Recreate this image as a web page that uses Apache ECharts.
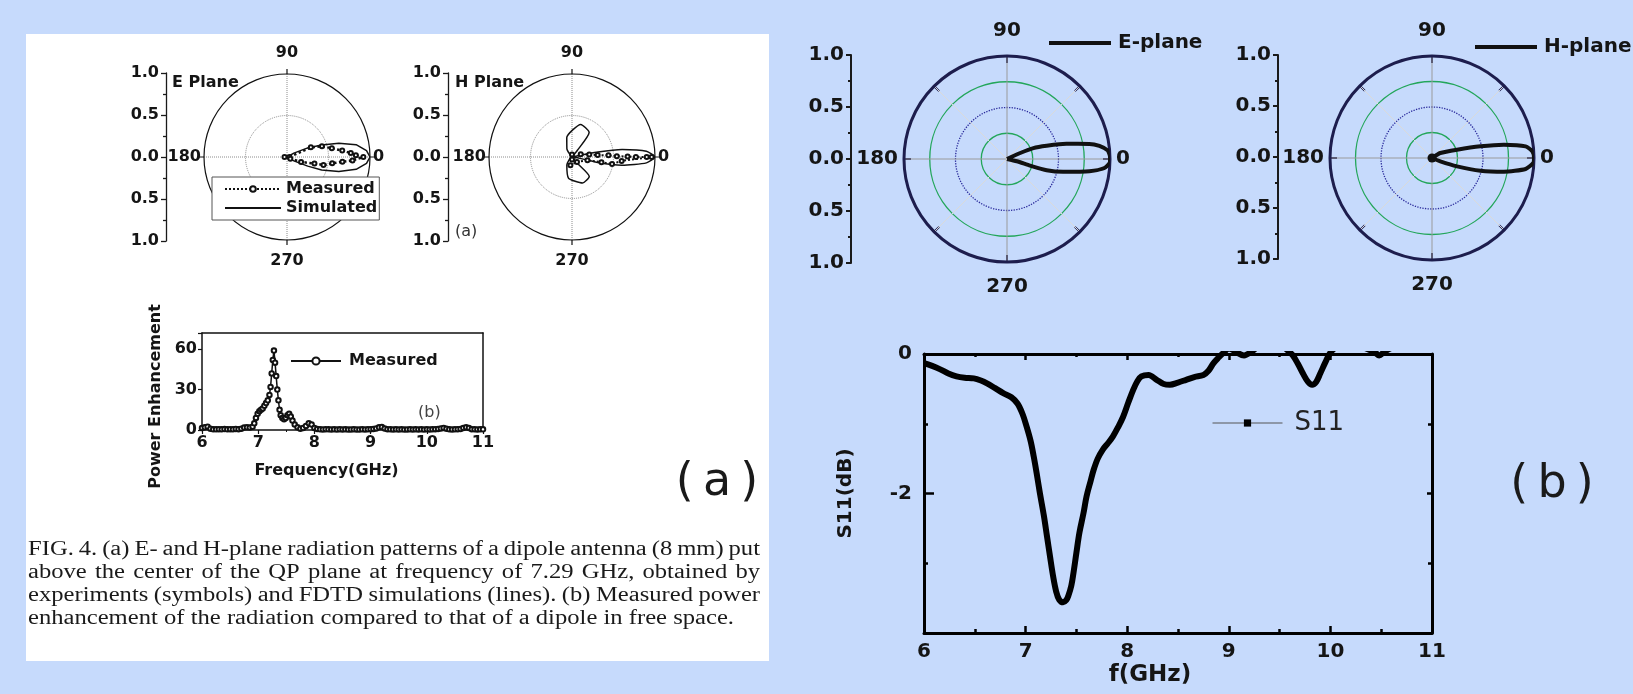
<!DOCTYPE html>
<html lang="en">
<head>
<meta charset="UTF-8">
<title>Dipole radiation patterns and S11</title>
<style>
  html, body { margin: 0; padding: 0; background: #c6dafc; }
  #main { width: 1633px; height: 694px; }
</style>
</head>
<body>
<div id="main"></div>
<script src="https://cdn.jsdelivr.net/npm/echarts@6/dist/echarts.min.js"></script>
<script>
// ---- data ----
// polar points are [radius, angle in degrees]
var paperESim = [[0, 0], [0.095, 29.5], [0.273, 23.7], [0.441, 19.2], [0.646, 14.8], [0.846, 10.1], [0.961, 4.6], [1, 0],
  [0.961, 355.4], [0.846, 349.9], [0.649, 344.3], [0.446, 339.4], [0.273, 336.3], [0.095, 330.5], [0, 0]];
var paperEMeas = [[0.03, 180], [0.03, 0], [0.31, 22], [0.44, 17], [0.55, 11], [0.67, 6.7], [0.77, 3.5], [0.83, 1.4], [0.92, 0],
  [0.79, 357], [0.67, 355], [0.55, 352], [0.45, 347.5], [0.34, 346.7], [0.18, 340.5], [0.045, 333]];
var paperHSim = [[0, 0], [0.116, 122], [0.243, 105], [0.406, 75], [0.36, 55], [0.1, 51], [0, 0],
  [0.318, 10.7], [0.611, 8.5], [0.899, 4.5], [1, 0], [0.9, 355.5], [0.61, 350.7], [0.317, 347.8], [0, 0],
  [0.116, 237.5], [0.258, 260.7], [0.338, 292], [0.314, 311.5], [0.1, 310], [0, 0]];
var paperHMeas = [[0.03, 90], [0.03, 270], [0.11, 17], [0.21, 8], [0.31, 4.4], [0.44, 2.6], [0.54, 1], [0.67, 0.5], [0.77, 0],
  [0.9, 0], [0.96, 0], [0.6, 355.5], [0.49, 350], [0.36, 350], [0.19, 348], [0.085, 315], [0.1, 259]];
var rightE = [[0, 0], [0.141, 24.4], [0.277, 22.5], [0.406, 18.4], [0.595, 14.3], [0.813, 10.4], [0.906, 8.1], [0.981, 4.9],
  [1, 1.5], [1, 0], [1, 358.2], [0.95, 354.7], [0.809, 351.5], [0.559, 347.1], [0.40, 344.2], [0.233, 344.1], [0.098, 347.1], [0, 0]];
var rightH = [[0, 0], [0.095, 31], [0.259, 18.4], [0.489, 13.6], [0.717, 10.5], [0.925, 7.1], [0.986, 3.8], [1, 0],
  [0.994, 357.2], [0.924, 353.3], [0.718, 349.2], [0.491, 345.3], [0.259, 341.6], [0.088, 338.2], [0, 0]];
var angleTicks = [0, 90, 180, 270];

// measured power enhancement (paper fig b)
var pwrFreq = [6.00, 6.05, 6.10, 6.15, 6.20, 6.25, 6.30, 6.35, 6.40, 6.45, 6.50, 6.55, 6.60, 6.65, 6.70, 6.75, 6.80, 6.85, 6.90,
  6.93, 6.96, 6.99, 7.02, 7.05, 7.08, 7.11, 7.14, 7.17, 7.20, 7.22, 7.24, 7.26, 7.28, 7.30, 7.32, 7.34, 7.36, 7.38, 7.40,
  7.43, 7.46, 7.49, 7.52, 7.55, 7.58, 7.61, 7.65, 7.70, 7.75, 7.80, 7.85, 7.90, 7.95, 8.00, 8.05,
  8.10, 8.15, 8.20, 8.25, 8.30, 8.35, 8.40, 8.45, 8.50, 8.55, 8.60, 8.65, 8.70, 8.75, 8.80, 8.85, 8.90, 8.95,
  9.00, 9.05, 9.10, 9.15, 9.20, 9.25, 9.30, 9.35, 9.40, 9.45, 9.50, 9.55, 9.60, 9.65, 9.70, 9.75, 9.80, 9.85, 9.90, 9.95,
  10.00, 10.05, 10.10, 10.15, 10.20, 10.25, 10.30, 10.35, 10.40, 10.45, 10.50, 10.55, 10.60, 10.65, 10.70, 10.75, 10.80,
  10.85, 10.90, 10.95, 11.00];
var pwrVal = [1.5, 2.0, 2.5, 1.0, 0.5, 0.5, 0.6, 0.5, 0.7, 0.5, 0.6, 0.5, 0.8, 0.6, 1.0, 1.8, 2.0, 1.8, 2.5,
  5, 9, 12, 14, 15, 16, 18, 20, 22, 26, 32, 42, 52, 59, 50, 40, 30, 22, 15, 11,
  9, 8, 9, 11, 12, 10, 7, 4, 2, 1, 1.5, 3, 5, 4, 1.5, 0.8,
  0.5, 0.4, 0.6, 0.5, 0.4, 0.5, 0.3, 0.5, 0.4, 0.5, 0.3, 0.4, 0.5, 0.4, 0.3, 0.5, 0.4, 0.5,
  0.6, 0.8, 1.2, 2.0, 2.2, 1.2, 0.6, 0.5, 0.4, 0.5, 0.4, 0.5, 0.3, 0.4, 0.5, 0.4, 0.5, 0.4, 0.5, 0.3,
  0.5, 0.4, 0.5, 0.6, 0.8, 1.2, 1.5, 1.0, 0.5, 0.4, 0.5, 0.6, 0.8, 1.5, 2.0, 1.5, 0.6,
  0.5, 0.4, 0.5, 0.5];

// S11 (dB), values above 0 are cut by the plot frame
var s11Freq = [6.00, 6.08, 6.16, 6.24, 6.32, 6.40, 6.49, 6.56, 6.62, 6.70, 6.78, 6.86, 6.92, 6.97, 7.01, 7.05, 7.08, 7.11,
  7.14, 7.18, 7.21, 7.24, 7.27, 7.30, 7.33, 7.37, 7.40, 7.42, 7.45, 7.47, 7.50, 7.53, 7.57, 7.60, 7.64, 7.67, 7.71, 7.76,
  7.81, 7.86, 7.91, 7.96, 8.01, 8.06, 8.10, 8.14, 8.21, 8.29, 8.36, 8.42, 8.50, 8.58, 8.66, 8.75, 8.80, 8.85, 8.90, 8.95,
  9.00, 9.07, 9.15, 9.22, 9.30, 9.40, 9.50, 9.58, 9.63, 9.68, 9.73, 9.78, 9.82, 9.86, 9.90, 9.95, 10.00, 10.08, 10.20,
  10.35, 10.44, 10.48, 10.53, 10.65, 10.80, 11.00];
var s11Val = [-0.13, -0.17, -0.22, -0.28, -0.32, -0.34, -0.35, -0.38, -0.42, -0.49, -0.56, -0.62, -0.71, -0.86, -1.04, -1.25,
  -1.47, -1.72, -1.99, -2.32, -2.61, -2.90, -3.18, -3.40, -3.52, -3.56, -3.53, -3.47, -3.32, -3.15, -2.85, -2.56, -2.28,
  -2.04, -1.82, -1.66, -1.50, -1.37, -1.28, -1.18, -1.05, -0.90, -0.70, -0.51, -0.39, -0.32, -0.30, -0.37, -0.43, -0.44,
  -0.41, -0.37, -0.33, -0.30, -0.24, -0.13, -0.05, 0.02, 0.08, 0.03, -0.02, 0.03, 0.12, 0.18, 0.15, 0.05, -0.02, -0.14,
  -0.28, -0.40, -0.44, -0.40, -0.28, -0.12, 0.02, 0.12, 0.15, 0.08, 0.02, -0.02, 0.03, 0.12, 0.16, 0.18];

var captionLines = [
  'FIG. 4. (a) E- and H-plane radiation patterns of a dipole antenna (8 mm) put',
  'above the center of the QP plane at frequency of 7.29 GHz, obtained by',
  'experiments (symbols) and FDTD simulations (lines). (b) Measured power',
  'enhancement of the radiation compared to that of a dipole in free space.'
];
var legendText = { pEMeas: 'Measured', pESim: 'Simulated', pwr: 'Measured', rE: 'E-plane', rH: 'H-plane', s11: 'S11' };

// ---- styles ----
var SANS = '"DejaVu Sans", "Liberation Sans", sans-serif';
function txt(size, weight, color) {
  return { fontFamily: SANS, fontSize: size, fontWeight: weight || 'bold', color: color || '#151515' };
}
function pairs(xs, ys) {
  return xs.map(function (x, i) { return [x, ys[i]]; });
}

// angle labels 0/90/180/270, pushed away from the circle at top and bottom
function angleLabel(size, margin, pad) {
  var base = txt(size);
  return {
    margin: margin,
    formatter: function (v) {
      if (v === 90) return '{t|90}';
      if (v === 270) return '{b|270}';
      if (angleTicks.indexOf(v) >= 0) return '{m|' + v + '}';
      return '';
    },
    rich: {
      t: Object.assign({ padding: [0, 0, pad, 0] }, base),
      b: Object.assign({ padding: [pad, 0, 0, 0] }, base),
      m: Object.assign({}, base)
    }
  };
}

function paperAngle(i) {
  return {
    polarIndex: i, type: 'value', min: 0, max: 360, interval: 90, startAngle: 0, clockwise: false,
    axisLine: { lineStyle: { color: '#111', width: 1.2 } },
    axisTick: { show: true, length: 5, lineStyle: { color: '#111', width: 1.2 } },
    splitLine: { show: true, lineStyle: { color: '#8c8c8c', type: 'dotted', width: 1 } },
    axisLabel: angleLabel(16, 3, 10)
  };
}
function rightAngle(i) {
  return {
    polarIndex: i, type: 'value', min: 0, max: 360, interval: 45, startAngle: 0, clockwise: false,
    axisLine: { lineStyle: { color: '#1d1d4d', width: 3 } },
    axisTick: { show: true, inside: true, length: 7, lineStyle: { color: '#1d1d4d', width: 2 } },
    splitLine: { show: true, lineStyle: { color: ['#9a9a9a', '#dadada'], width: 1 } },
    axisLabel: angleLabel(20, 6, 9)
  };
}
function ringAxis(i, step, colors, type, width) {
  return {
    polarIndex: i, type: 'value', min: 0, max: 1, interval: step,
    axisLine: { show: false }, axisTick: { show: false }, axisLabel: { show: false },
    splitLine: { show: true, lineStyle: { color: colors, type: type, width: width } }
  };
}
var T = 'rgba(0,0,0,0)';

// vertical 1.0 - 0.0 - 1.0 scale next to each polar plot
function scaleY(g, size, lw) {
  return {
    gridIndex: g, type: 'value', min: -1, max: 1, interval: 0.5,
    axisLine: { show: true, onZero: false, lineStyle: { color: '#1a1a1a', width: lw } },
    axisTick: { show: true, length: 5, lineStyle: { color: '#1a1a1a', width: lw } },
    minorTick: { show: true, splitNumber: 2, length: 3, lineStyle: { color: '#1a1a1a', width: lw } },
    splitLine: { show: false },
    axisLabel: Object.assign({ margin: 7, formatter: function (v) { return Math.abs(v).toFixed(1); } }, txt(size))
  };
}
function hiddenX(g) {
  return { gridIndex: g, type: 'value', show: false, min: 0, max: 1 };
}

// ---- graphics: white panel, annotations, caption ----
var graphics = [
  { type: 'rect', z: -1, shape: { x: 26, y: 34, width: 743, height: 627 }, style: { fill: '#fff' } },
  { type: 'text', x: 172, y: 83, style: { text: 'E Plane', font: 'bold 16px ' + SANS, fill: '#151515', verticalAlign: 'middle' } },
  { type: 'text', x: 455, y: 83, style: { text: 'H Plane', font: 'bold 16px ' + SANS, fill: '#151515', verticalAlign: 'middle' } },
  { type: 'text', x: 455, y: 232, style: { text: '(a)', font: '16px ' + SANS, fill: '#333', verticalAlign: 'middle' } },
  { type: 'text', x: 418, y: 413, style: { text: '(b)', font: '16px ' + SANS, fill: '#444', verticalAlign: 'middle' } },
  { type: 'text', x: 717, y: 483, style: { text: '(\u2009a\u2009)', font: '46px ' + SANS, fill: '#1a1a1a', align: 'center', verticalAlign: 'middle' } },
  { type: 'text', x: 1552, y: 485, style: { text: '(\u2009b\u2009)', font: '46px ' + SANS, fill: '#1a1a1a', align: 'center', verticalAlign: 'middle' } }
];

// caption: the scanned text is stretched sideways, so scale words and justify lines
var capFont = '20px "Liberation Serif", "Times New Roman", serif';
var capY = [550, 573, 596, 619];
var ctx = document.createElement('canvas').getContext('2d');
ctx.font = capFont;
var sx = 706 / ctx.measureText(captionLines[3]).width;
captionLines.forEach(function (line, li) {
  var words = line.split(' ');
  var widths = words.map(function (w) { return ctx.measureText(w).width * sx; });
  var sum = widths.reduce(function (a, b) { return a + b; }, 0);
  var gap = li < 3 ? (732 - sum) / (words.length - 1) : ctx.measureText(' ').width * sx;
  var x = 28;
  words.forEach(function (w, i) {
    graphics.push({ type: 'text', x: x, y: capY[li], scaleX: sx,
      style: { text: w, font: capFont, fill: '#1a1a1a', verticalAlign: 'middle' } });
    x += widths[i] + gap;
  });
});

var noIcon = { color: T, borderColor: T, borderWidth: 0 };

var chart = echarts.init(document.getElementById('main'));
var option = {
  animation: false,
  backgroundColor: '#c6dafc',
  polar: [
    { center: [287, 157], radius: 83 },
    { center: [572, 157], radius: 83 },
    { center: [1007, 159], radius: 103 },
    { center: [1007, 159], radius: 103 },
    { center: [1432, 158], radius: 102 },
    { center: [1432, 158], radius: 102 }
  ],
  angleAxis: [
    paperAngle(0), paperAngle(1), rightAngle(2),
    { polarIndex: 3, type: 'value', min: 0, max: 360, show: false },
    rightAngle(4),
    { polarIndex: 5, type: 'value', min: 0, max: 360, show: false }
  ],
  radiusAxis: [
    ringAxis(0, 0.5, [T, '#8c8c8c', T], 'dotted', 1),
    ringAxis(1, 0.5, [T, '#8c8c8c', T], 'dotted', 1),
    ringAxis(2, 0.25, [T, '#23a65a', T, '#23a65a', T], 'solid', 1.3),
    ringAxis(3, 0.5, [T, '#2b2b9c', T], 'dotted', 1.3),
    ringAxis(4, 0.25, [T, '#23a65a', T, '#23a65a', T], 'solid', 1.3),
    ringAxis(5, 0.5, [T, '#2b2b9c', T], 'dotted', 1.3)
  ],
  grid: [
    { left: 202, top: 333, width: 281, height: 97, outerBoundsMode: 'none' },
    { left: 924, top: 354, width: 508, height: 279, outerBoundsMode: 'none' },
    { left: 166, top: 73, width: 1, height: 168, outerBoundsMode: 'none' },
    { left: 448, top: 73, width: 1, height: 168, outerBoundsMode: 'none' },
    { left: 851, top: 55, width: 1, height: 208, outerBoundsMode: 'none' },
    { left: 1278, top: 55, width: 1, height: 204, outerBoundsMode: 'none' }
  ],
  xAxis: [
    {
      gridIndex: 0, type: 'value', min: 6, max: 11, interval: 1,
      axisLine: { onZero: false, lineStyle: { color: '#111', width: 1.5 } },
      axisTick: { length: 4, lineStyle: { color: '#111', width: 1.2 } },
      minorTick: { show: true, splitNumber: 2, length: 2, lineStyle: { color: '#111' } },
      splitLine: { show: false },
      axisLabel: Object.assign({ margin: 5 }, txt(16)),
      name: 'Frequency(GHz)', nameLocation: 'middle', nameGap: 33,
      nameTextStyle: Object.assign({ padding: [0, 32, 0, 0] }, txt(16))
    },
    {
      gridIndex: 0, type: 'value', min: 6, max: 11, position: 'top',
      axisLine: { onZero: false, lineStyle: { color: '#111', width: 1.5 } },
      axisTick: { show: false }, axisLabel: { show: false }, splitLine: { show: false }
    },
    {
      gridIndex: 1, type: 'value', min: 6, max: 11, interval: 1,
      axisLine: { onZero: false, lineStyle: { color: '#000', width: 3 } },
      axisTick: { inside: true, length: 7, lineStyle: { color: '#000', width: 2.5 } },
      minorTick: { show: true, splitNumber: 2, length: 4, lineStyle: { color: '#000', width: 2.5 } },
      splitLine: { show: false },
      axisLabel: Object.assign({ margin: 9 }, txt(20)),
      name: 'f(GHz)', nameLocation: 'middle', nameGap: 31,
      nameTextStyle: Object.assign({ padding: [0, 56, 0, 0] }, txt(23))
    },
    {
      gridIndex: 1, type: 'value', min: 6, max: 11, interval: 1, position: 'top',
      axisLine: { onZero: false, lineStyle: { color: '#000', width: 3 } },
      axisTick: { inside: true, length: 6, lineStyle: { color: '#000', width: 2.5 } },
      minorTick: { show: true, splitNumber: 2, length: 3, lineStyle: { color: '#000', width: 2.5 } },
      axisLabel: { show: false }, splitLine: { show: false }
    },
    hiddenX(2), hiddenX(3), hiddenX(4), hiddenX(5)
  ],
  yAxis: [
    {
      gridIndex: 0, type: 'value', min: 0, max: 72, interval: 30,
      axisLine: { show: true, onZero: false, lineStyle: { color: '#111', width: 1.5 } },
      axisTick: { show: true, length: 4, lineStyle: { color: '#111', width: 1.2 } },
      splitLine: { show: false },
      axisLabel: Object.assign({ margin: 5, formatter: function (v) { return v % 30 === 0 ? v : ''; } }, txt(16)),
      name: 'Power Enhancement', nameLocation: 'middle', nameGap: 38,
      nameTextStyle: Object.assign({ padding: [0, 30, 0, 0] }, txt(16))
    },
    {
      gridIndex: 0, type: 'value', min: 0, max: 72, position: 'right',
      axisLine: { show: true, onZero: false, lineStyle: { color: '#111', width: 1.5 } },
      axisTick: { show: false }, axisLabel: { show: false }, splitLine: { show: false }
    },
    {
      gridIndex: 1, type: 'value', min: -4, max: 0, interval: 2,
      axisLine: { show: true, onZero: false, lineStyle: { color: '#000', width: 3 } },
      axisTick: { show: true, inside: true, length: 10, lineStyle: { color: '#000', width: 2.5 } },
      minorTick: { show: true, splitNumber: 2, length: 4, lineStyle: { color: '#000', width: 2.5 } },
      splitLine: { show: false },
      axisLabel: Object.assign({ margin: 12, formatter: function (v) { return v === -4 ? '' : v; } }, txt(20)),
      name: 'S11(dB)', nameLocation: 'middle', nameGap: 68,
      nameTextStyle: txt(20)
    },
    {
      gridIndex: 1, type: 'value', min: -4, max: 0, interval: 2, position: 'right',
      axisLine: { show: true, onZero: false, lineStyle: { color: '#000', width: 3 } },
      axisTick: { show: true, inside: true, length: 5, lineStyle: { color: '#000', width: 2.5 } },
      minorTick: { show: true, splitNumber: 2, length: 4, lineStyle: { color: '#000', width: 2.5 } },
      axisLabel: { show: false }, splitLine: { show: false }
    },
    scaleY(2, 16, 1.3), scaleY(3, 16, 1.3), scaleY(4, 20, 2), scaleY(5, 20, 2)
  ],
  legend: [
    {
      left: 212, top: 177, orient: 'vertical', padding: [4, 2, 4, 12], itemGap: 3,
      itemWidth: 56, itemHeight: 7, backgroundColor: '#fff', borderColor: '#555', borderWidth: 1,
      selectedMode: false, data: ['pEMeas', { name: 'pESim', itemStyle: noIcon }],
      formatter: function (n) { return legendText[n]; }, textStyle: txt(16)
    },
    {
      left: 290, top: 353, padding: 0, itemWidth: 50, itemHeight: 9, selectedMode: false, data: ['pwr'],
      formatter: function (n) { return legendText[n]; }, textStyle: Object.assign({ padding: [0, 0, 0, 3] }, txt(16))
    },
    {
      left: 1049, top: 33, padding: 0, icon: 'rect', itemWidth: 62, itemHeight: 4, selectedMode: false, data: ['rE'],
      formatter: function (n) { return legendText[n]; }, textStyle: Object.assign({ padding: [0, 0, 0, 2] }, txt(20))
    },
    {
      left: 1475, top: 37, padding: 0, icon: 'rect', itemWidth: 62, itemHeight: 4, selectedMode: false, data: ['rH'],
      formatter: function (n) { return legendText[n]; }, textStyle: Object.assign({ padding: [0, 0, 0, 2] }, txt(20))
    },
    {
      left: 1212, top: 410, padding: 0, itemWidth: 70, itemHeight: 9, selectedMode: false, data: ['s11'],
      lineStyle: { color: '#555', width: 1 }, itemStyle: { color: '#000' },
      formatter: function (n) { return legendText[n]; },
      textStyle: Object.assign({ padding: [0, 0, 0, 7] }, txt(26, 'normal', '#222'))
    }
  ],
  series: [
    { name: 'pESim', type: 'line', coordinateSystem: 'polar', polarIndex: 0, data: paperESim, symbol: 'none',
      color: '#111', lineStyle: { color: '#111', width: 1.5 } },
    { name: 'pEMeas', type: 'line', coordinateSystem: 'polar', polarIndex: 0, data: paperEMeas,
      symbol: 'emptyCircle', symbolSize: 4, color: '#111', itemStyle: { color: '#111' },
      lineStyle: { color: '#111', width: 2.5, type: 'dotted' } },
    { name: 'pHSim', type: 'line', coordinateSystem: 'polar', polarIndex: 1, data: paperHSim, symbol: 'none',
      smooth: 0.2, color: '#111', lineStyle: { color: '#111', width: 1.5 } },
    { name: 'pHMeas', type: 'line', coordinateSystem: 'polar', polarIndex: 1, data: paperHMeas,
      symbol: 'emptyCircle', symbolSize: 4, color: '#111', itemStyle: { color: '#111' },
      lineStyle: { color: '#111', width: 2, type: 'dotted' } },
    { name: 'rE', type: 'line', coordinateSystem: 'polar', polarIndex: 2, data: rightE, symbol: 'none',
      smooth: 0.2, color: '#111', lineStyle: { color: '#111', width: 4, join: 'round' } },
    { name: 'rH', type: 'line', coordinateSystem: 'polar', polarIndex: 4, symbol: 'none', showSymbol: true,
      data: rightH.map(function (p, i) { return i === 0 ? { value: p, symbol: 'circle', symbolSize: 9 } : p; }),
      smooth: 0.2, color: '#111', itemStyle: { color: '#111' }, lineStyle: { color: '#111', width: 4, join: 'round' } },
    { name: 'pwr', type: 'line', xAxisIndex: 0, yAxisIndex: 0, data: pairs(pwrFreq, pwrVal),
      symbol: 'emptyCircle', symbolSize: 4.5, showAllSymbol: true, color: '#111',
      itemStyle: { color: '#111', borderWidth: 1.2 }, lineStyle: { color: '#111', width: 1.5 } },
    { name: 's11', type: 'line', xAxisIndex: 2, yAxisIndex: 2, data: pairs(s11Freq, s11Val),
      symbol: 'rect', showSymbol: false, smooth: 0.35, color: '#000',
      lineStyle: { color: '#000', width: 6, join: 'round' } }
  ],
  graphic: graphics
};
chart.setOption(option);
</script>
</body>
</html>
